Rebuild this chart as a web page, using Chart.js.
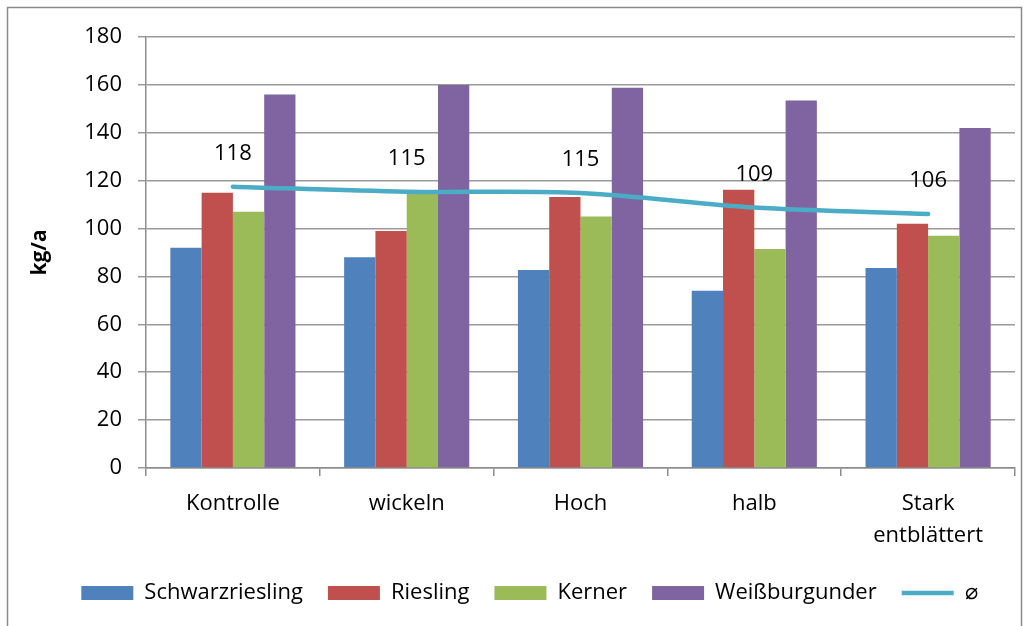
<!DOCTYPE html>
<html>
<head>
<meta charset="utf-8">
<script src="https://cdn.jsdelivr.net/npm/chart.js@4.4.1/dist/chart.umd.min.js"></script>
<style>
  html, body { margin: 0; padding: 0; background: #fff; overflow: hidden; }
  #wrap { position: relative; width: 1032px; height: 626px; }
</style>
</head>
<body>
<div id="wrap"><canvas id="yieldChart" width="1032" height="626"></canvas></div>
<script>
// categories and values
const categories = ["Kontrolle", "wickeln", "Hoch", "halb", ["Stark", "entblättert"]];
const schwarzriesling = [92, 88, 82.7, 74, 83.5];
const riesling = [115, 99, 113.2, 116.2, 102];
const kerner = [107, 115, 105, 91.5, 97];
const weissburgunder = [156, 160, 158.8, 153.5, 142];
const mittel = [117.5, 115.4, 114.9, 108.8, 106.1];   // the "⌀" line
const yTicks = { min: 0, max: 180, step: 20 };

const FONT = "'Open Sans'";
const ctx = document.getElementById("yieldChart").getContext("2d");

// draws the value above each point of the average line
const lineLabels = {
    id: "lineLabels",
    afterDatasetsDraw(chart) {
        const meta = chart.getDatasetMeta(4);
        const c = chart.ctx;
        c.save();
        c.font = "22px " + FONT;
        c.fillStyle = "#000";
        c.textAlign = "center";
        c.textBaseline = "middle";
        meta.data.forEach((pt, i) => {
            c.fillText(Math.round(mittel[i]), pt.x, pt.y - 33);
        });
        c.restore();
    }
};

// grey frame round the whole chart, legend nudged a bit to the right
const frame = {
    id: "frame",
    afterLayout(chart) {
        chart.legend.left += 22;
        chart.legend.right += 22;
    },
    beforeDraw(chart) {
        const c = chart.ctx;
        c.save();
        c.strokeStyle = "#8a8a8a";
        c.lineWidth = 1.5;
        c.strokeRect(7.5, 7.5, 1014, 660);
        c.restore();
    }
};

const yieldChart = new Chart(ctx, {
    type: "bar",
    data: {
        labels: categories,
        datasets: [
            { label: "Schwarzriesling", data: schwarzriesling, backgroundColor: "#4F81BD", order: 1 },
            { label: "Riesling", data: riesling, backgroundColor: "#C0504D", order: 1 },
            { label: "Kerner", data: kerner, backgroundColor: "#9BBB59", order: 1 },
            { label: "Weißburgunder", data: weissburgunder, backgroundColor: "#8064A2", order: 1 },
            {
                type: "line",
                label: "⌀",
                data: mittel,
                borderColor: "#4BACC6",
                backgroundColor: "#4BACC6",
                borderWidth: 4.5,
                borderCapStyle: "round",
                pointRadius: 0,
                tension: 0.3,
                fill: false,
                order: 0
            }
        ]
    },
    options: {
        responsive: false,
        animation: false,
        layout: { padding: { left: 0, top: 37, right: 17, bottom: 12 } },
        datasets: {
            bar: { barPercentage: 1, categoryPercentage: 0.72, borderWidth: 0 }
        },
        scales: {
            x: {
                grid: { drawOnChartArea: false, drawTicks: true, tickLength: 8, color: "#8c8c8c", lineWidth: 1.5 },
                border: { color: "#8c8c8c", width: 1.5 },
                ticks: { color: "#000", font: { family: FONT, size: 22, lineHeight: 1.45 }, padding: 12, maxRotation: 0 },
                afterFit(scale) { scale.height = 89; }
            },
            y: {
                min: yTicks.min,
                max: yTicks.max,
                grid: { color: "#9a9a9a", lineWidth: 1.5, tickLength: 8 },
                border: { color: "#8c8c8c", width: 1.5 },
                ticks: { stepSize: yTicks.step, color: "#000", font: { family: FONT, size: 22 }, padding: 16 },
                title: {
                    display: true,
                    text: "kg/a",
                    color: "#000",
                    font: { family: FONT, size: 21, weight: "bold" },
                    padding: { top: 27, bottom: 0 }
                },
                afterFit(scale) { scale.width = 146; }
            }
        },
        plugins: {
            legend: {
                display: true,
                position: "bottom",
                labels: {
                    color: "#000",
                    font: { family: FONT, size: 22 },
                    usePointStyle: true,
                    pointStyleWidth: 52,
                    boxHeight: 14,
                    padding: 25,
                    generateLabels(chart) {
                        const items = Chart.defaults.plugins.legend.labels.generateLabels(chart);
                        items.forEach(it => {
                            it.pointStyle = it.datasetIndex === 4 ? "line" : "rect";
                        });
                        // keep the dataset order, not the draw order
                        return items.sort((a, b) => a.datasetIndex - b.datasetIndex);
                    }
                }
            },
            tooltip: { enabled: false }
        }
    },
    plugins: [frame, lineLabels]
});
</script>
</body>
</html>
